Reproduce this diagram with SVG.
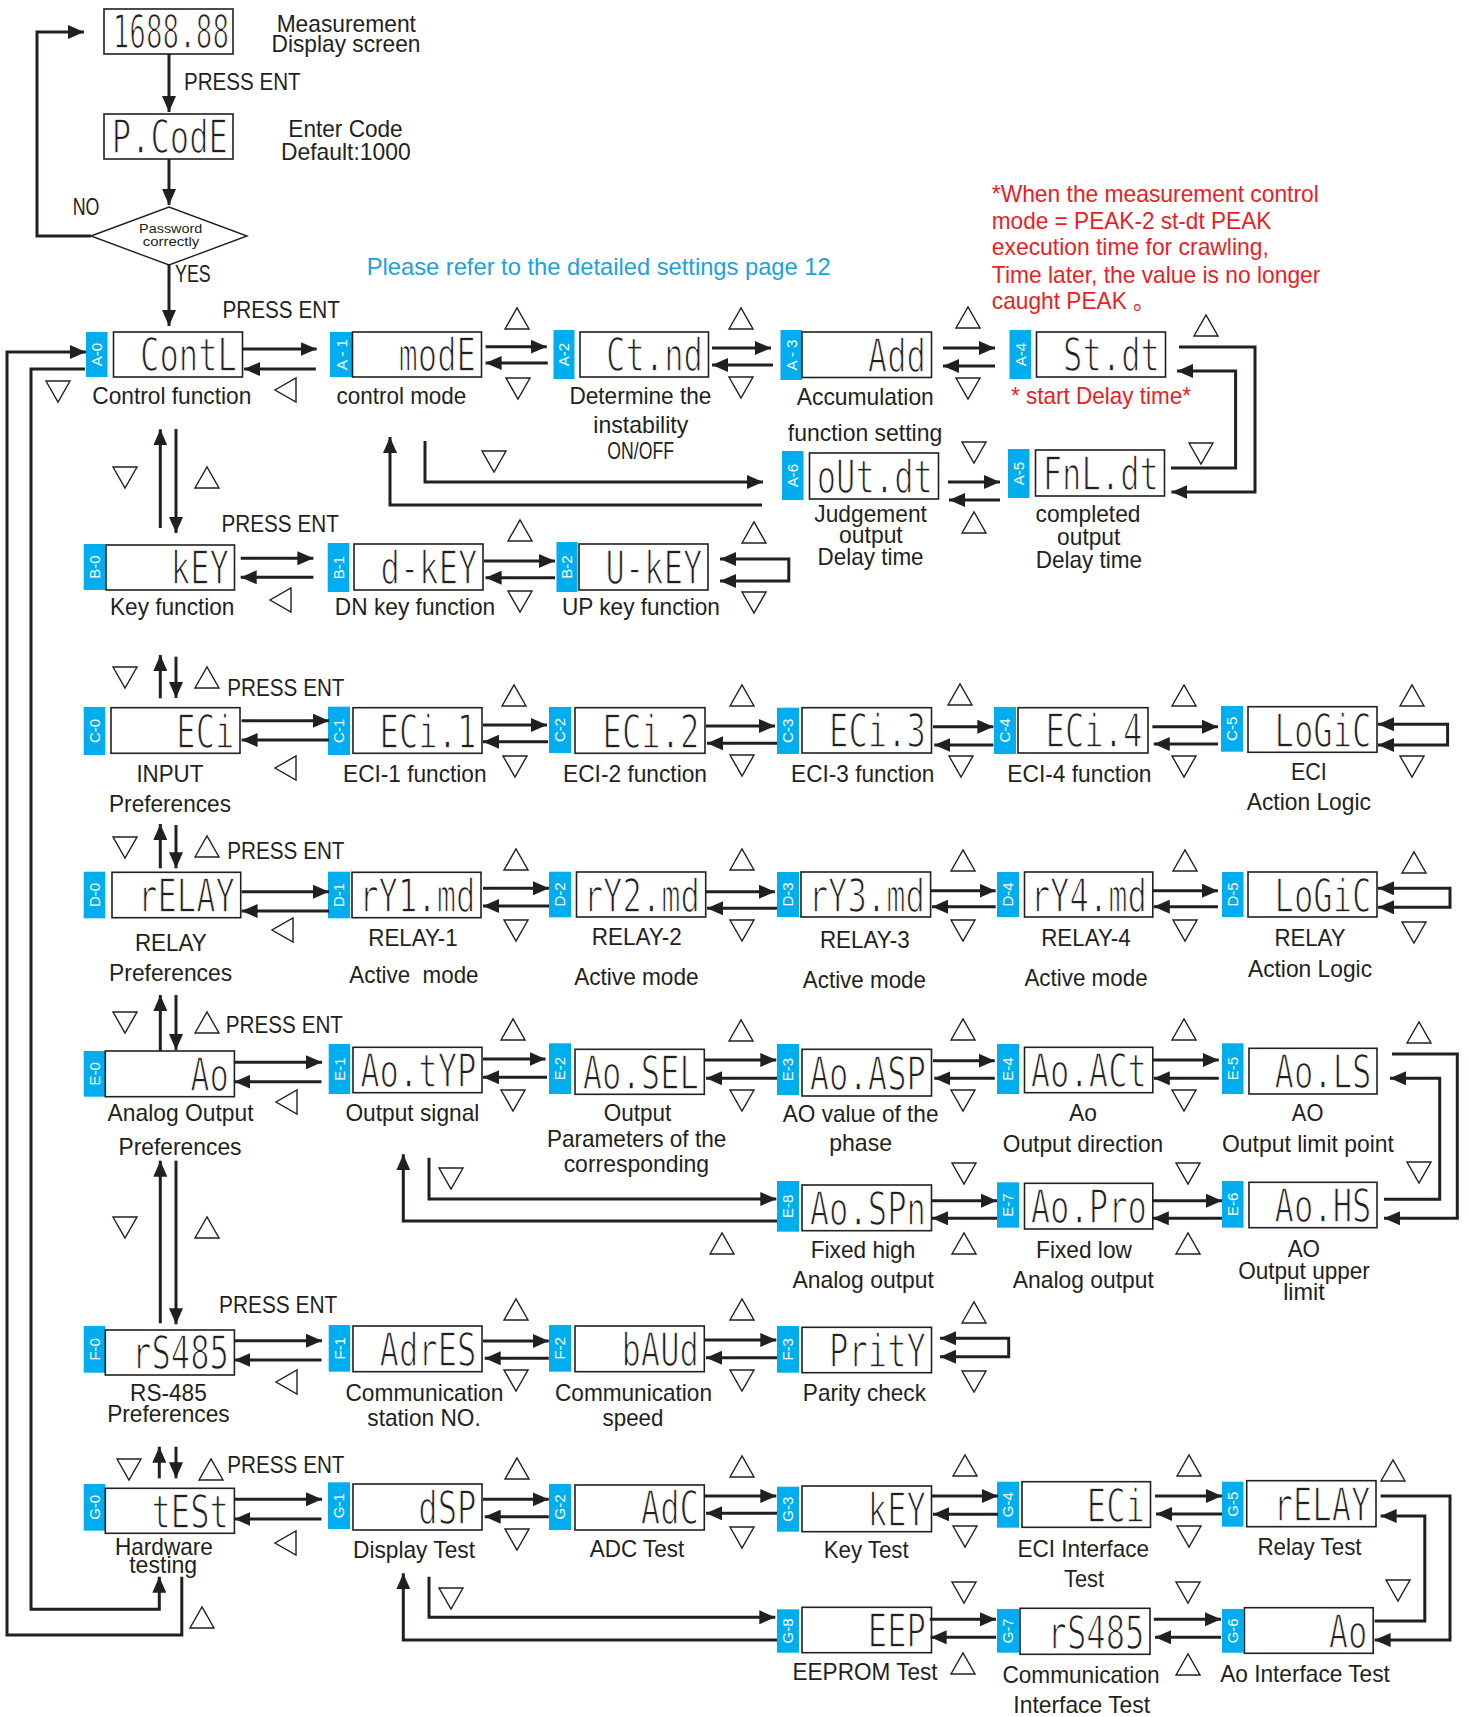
<svg xmlns="http://www.w3.org/2000/svg" xmlns:xlink="http://www.w3.org/1999/xlink" width="1469" height="1717" viewBox="0 0 1469 1717">
<style>
.box{fill:#fff;stroke:#231f20;stroke-width:1.6}
.tag{fill:#00aeef}
.tg{font-family:"Liberation Sans",Arial,sans-serif;font-size:15px;fill:#fff;text-anchor:middle}
.seg{font-family:"DejaVu Sans Mono",monospace;font-size:46px;fill:#231f20;stroke:#fff;stroke-width:1.4px;text-anchor:end}
.lb{font-family:"Liberation Sans",Arial,sans-serif;font-size:24px;fill:#231f20;text-anchor:middle}
.ls{font-family:"Liberation Sans",Arial,sans-serif;font-size:24px;fill:#231f20}
.red{fill:#ed1c24}
.cn{fill:none;stroke:#231f20;stroke-width:3}
.cnm{fill:none;stroke:#231f20;stroke-width:3;marker-end:url(#ah)}
.cnb{fill:none;stroke:#231f20;stroke-width:3;marker-start:url(#ah);marker-end:url(#ah)}
.tri{fill:#fff;stroke:#231f20;stroke-width:1.4}
</style>
<defs>
<marker id="ah" viewBox="0 0 16 14" markerWidth="16" markerHeight="14" refX="16" refY="7" orient="auto-start-reverse" markerUnits="userSpaceOnUse"><path d="M0,0 L16,7 L0,14 Z" fill="#231f20"/></marker>
<path id="tu" class="tri" d="M0,21 L12,0 L24,21 Z"/>
<path id="td" class="tri" d="M0,0 L24,0 L12,21 Z"/>
<path id="tl" class="tri" d="M21,0 L21,24 L0,12 Z"/>
</defs>
<rect width="1469" height="1717" fill="#fff"/>

<!-- top section -->
<g id="node-display">
<rect class="box" x="104" y="9" width="129" height="45"/>
<text class="seg" transform="translate(229,48) scale(0.6,1)">1688.88</text>
<text class="lb" x="346.3" y="32" textLength="139.3" lengthAdjust="spacingAndGlyphs">Measurement</text>
<text class="lb" x="346" y="52" textLength="149" lengthAdjust="spacingAndGlyphs">Display screen</text>
</g>
<g id="node-pcode">
<rect class="box" x="104" y="114" width="129" height="45"/>
<text class="seg" transform="translate(228,153) scale(0.7,1)">P.CodE</text>
<text class="lb" x="345.5" y="137" textLength="114.3" lengthAdjust="spacingAndGlyphs">Enter Code</text>
<text class="lb" x="345.8" y="160" textLength="129.7" lengthAdjust="spacingAndGlyphs">Default:1000</text>
</g>
<g id="node-password">
<polygon points="91,236 169,207 247,236 169,265" fill="#fff" stroke="#231f20" stroke-width="1.4"/>
<text x="170.7" y="233" text-anchor="middle" font-family="Liberation Sans,Arial,sans-serif" font-size="13" fill="#231f20" textLength="63.3" lengthAdjust="spacingAndGlyphs">Password</text>
<text x="171" y="245.5" text-anchor="middle" font-family="Liberation Sans,Arial,sans-serif" font-size="13" fill="#231f20" textLength="56.7" lengthAdjust="spacingAndGlyphs">correctly</text>
</g>
<g id="top-labels">
<text class="ls" x="184" y="90" textLength="116.7" lengthAdjust="spacingAndGlyphs">PRESS ENT</text>
<text class="ls" x="72.7" y="215" font-size="21" textLength="26.7" lengthAdjust="spacingAndGlyphs">NO</text>
<text class="ls" x="175" y="282" font-size="21" textLength="35.7" lengthAdjust="spacingAndGlyphs">YES</text>
<text class="ls" x="222.5" y="318.3" textLength="117.3" lengthAdjust="spacingAndGlyphs">PRESS ENT</text>
<text class="ls" x="221.5" y="531.7" textLength="117.3" lengthAdjust="spacingAndGlyphs">PRESS ENT</text>
<text class="ls" x="227.3" y="695.7" textLength="117.2" lengthAdjust="spacingAndGlyphs">PRESS ENT</text>
<text class="ls" x="227.3" y="859.3" textLength="117.2" lengthAdjust="spacingAndGlyphs">PRESS ENT</text>
<text class="ls" x="225.8" y="1033.3" textLength="117.2" lengthAdjust="spacingAndGlyphs">PRESS ENT</text>
<text class="ls" x="219" y="1313.3" textLength="118.3" lengthAdjust="spacingAndGlyphs">PRESS ENT</text>
<text class="ls" x="227.3" y="1472.7" textLength="117.2" lengthAdjust="spacingAndGlyphs">PRESS ENT</text>
<text class="ls" x="366.7" y="275" font-size="25" textLength="464" lengthAdjust="spacingAndGlyphs" style="fill:#1ba1e2">Please refer to the detailed settings page 12</text>
<text class="ls red" x="991.8" y="201.7" textLength="327" lengthAdjust="spacingAndGlyphs">*When the measurement control</text>
<text class="ls red" x="991.8" y="229.3" textLength="279.5" lengthAdjust="spacingAndGlyphs">mode = PEAK-2 st-dt PEAK</text>
<text class="ls red" x="991.8" y="255" textLength="277" lengthAdjust="spacingAndGlyphs">execution time for crawling,</text>
<text class="ls red" x="991.8" y="282.7" textLength="328.6" lengthAdjust="spacingAndGlyphs">Time later, the value is no longer</text>
<text class="ls red" x="991.8" y="309.3" textLength="135" lengthAdjust="spacingAndGlyphs">caught PEAK</text>
<text class="red" x="1133" y="309.3" font-size="22" font-family="Liberation Sans,Noto Sans CJK SC,sans-serif">。</text>
</g>

<!-- Row A -->
<g id="node-A0">
<rect class="tag" x="86" y="332" width="21.5" height="45"/><text class="tg" transform="rotate(-90 96.75 354.5)" x="96.75" y="359.8">A-0</text>
<rect class="box" x="113.5" y="332" width="129" height="45"/><text class="seg" transform="translate(237,371) scale(0.7,1)">ContL</text>
<text class="lb" x="171.8" y="404" textLength="159" lengthAdjust="spacingAndGlyphs">Control function</text>
</g>
<g id="node-A1">
<rect class="tag" x="330" y="332" width="22.5" height="45"/><text class="tg" transform="rotate(-90 341.25 354.5)" x="341.25" y="359.8">A - 1</text>
<rect class="box" x="352.5" y="332" width="129" height="45"/><text class="seg" transform="translate(476,371) scale(0.7,1)">modE</text>
<text class="lb" x="401.4" y="404" textLength="130" lengthAdjust="spacingAndGlyphs">control mode</text>
</g>
<g id="node-A2">
<rect class="tag" x="553.5" y="330" width="21" height="49"/><text class="tg" transform="rotate(-90 564 354.5)" x="564" y="359.8">A-2</text>
<rect class="box" x="580" y="332" width="128.5" height="45"/><text class="seg" transform="translate(703,371) scale(0.7,1)">Ct.nd</text>
<text class="lb" x="640.4" y="404" textLength="142" lengthAdjust="spacingAndGlyphs">Determine the</text>
<text class="lb" x="640.8" y="433" textLength="95" lengthAdjust="spacingAndGlyphs">instability</text>
<text class="lb" x="640.6" y="459.3" font-size="19" textLength="66.7" lengthAdjust="spacingAndGlyphs">ON/OFF</text>
</g>
<g id="node-A3">
<rect class="tag" x="780.5" y="330" width="21.5" height="50"/><text class="tg" transform="rotate(-90 791.25 355)" x="791.25" y="360.3">A - 3</text>
<rect class="box" x="802" y="332" width="129.5" height="45.5"/><text class="seg" transform="translate(926,371.5) scale(0.7,1)">Add</text>
<text class="lb" x="865.3" y="405" textLength="137" lengthAdjust="spacingAndGlyphs">Accumulation</text>
<text class="lb" x="865" y="441" textLength="154.3" lengthAdjust="spacingAndGlyphs">function setting</text>
</g>
<g id="node-A4">
<rect class="tag" x="1009.5" y="330" width="21.5" height="49"/><text class="tg" transform="rotate(-90 1020.25 354.5)" x="1020.25" y="359.8">A-4</text>
<rect class="box" x="1036.5" y="332" width="129" height="45"/><text class="seg" transform="translate(1160,371) scale(0.7,1)">St.dt</text>
<text class="lb red" x="1101" y="404" textLength="180" lengthAdjust="spacingAndGlyphs">* start Delay time*</text>
</g>
<g id="node-A6">
<rect class="tag" x="782" y="451" width="21.5" height="49"/><text class="tg" transform="rotate(-90 792.75 475.5)" x="792.75" y="480.8">A-6</text>
<rect class="box" x="809.5" y="453" width="129" height="46"/><text class="seg" transform="translate(933,493) scale(0.7,1)">oUt.dt</text>
<text class="lb" x="870.6" y="521.7" textLength="112.5" lengthAdjust="spacingAndGlyphs">Judgement</text>
<text class="lb" x="870.9" y="542.7" textLength="63.7" lengthAdjust="spacingAndGlyphs">output</text>
<text class="lb" x="870.6" y="565" textLength="106" lengthAdjust="spacingAndGlyphs">Delay time</text>
</g>
<g id="node-A5">
<rect class="tag" x="1008" y="449" width="21.5" height="49"/><text class="tg" transform="rotate(-90 1018.75 473.5)" x="1018.75" y="478.8">A-5</text>
<rect class="box" x="1035.5" y="450" width="129" height="46"/><text class="seg" transform="translate(1159,490) scale(0.7,1)">FnL.dt</text>
<text class="lb" x="1088" y="521.7" textLength="105" lengthAdjust="spacingAndGlyphs">completed</text>
<text class="lb" x="1088.7" y="545" textLength="63.2" lengthAdjust="spacingAndGlyphs">output</text>
<text class="lb" x="1088.9" y="568" textLength="106.5" lengthAdjust="spacingAndGlyphs">Delay time</text>
</g>

<!-- Row B -->
<g id="node-B0">
<rect class="tag" x="83.7" y="544" width="21.6" height="46"/><text class="tg" transform="rotate(-90 94.5 567)" x="94.5" y="572.3">B-0</text>
<rect class="box" x="106" y="545" width="128.5" height="45"/><text class="seg" transform="translate(229,584) scale(0.7,1)">kEY</text>
<text class="lb" x="172.2" y="615" textLength="124.4" lengthAdjust="spacingAndGlyphs">Key function</text>
</g>
<g id="node-B1">
<rect class="tag" x="327.7" y="543" width="21.6" height="49"/><text class="tg" transform="rotate(-90 338.5 567.5)" x="338.5" y="572.8">B-1</text>
<rect class="box" x="354" y="544" width="129" height="46"/><text class="seg" transform="translate(477.5,584) scale(0.7,1)">d-kEY</text>
<text class="lb" x="415" y="615" textLength="160.3" lengthAdjust="spacingAndGlyphs">DN key function</text>
</g>
<g id="node-B2">
<rect class="tag" x="556.5" y="542" width="21" height="50"/><text class="tg" transform="rotate(-90 567 567)" x="567" y="572.3">B-2</text>
<rect class="box" x="579" y="544" width="129" height="46"/><text class="seg" transform="translate(702.5,584) scale(0.7,1)">U-kEY</text>
<text class="lb" x="641" y="615" textLength="157.9" lengthAdjust="spacingAndGlyphs">UP key function</text>
</g>

<!-- Row C -->
<g id="node-C0">
<rect class="tag" x="83.7" y="707" width="21.6" height="48"/><text class="tg" transform="rotate(-90 94.5 731)" x="94.5" y="736.3">C-0</text>
<rect class="box" x="111" y="707.7" width="129" height="45.6"/><text class="seg" transform="translate(234.5,747.5) scale(0.7,1)">ECi</text>
<text class="lb" x="169.9" y="781.7" textLength="67" lengthAdjust="spacingAndGlyphs">INPUT</text>
<text class="lb" x="170" y="811.7" textLength="122" lengthAdjust="spacingAndGlyphs">Preferences</text>
</g>
<g id="node-C1">
<rect class="tag" x="328" y="706.7" width="22" height="48.3"/><text class="tg" transform="rotate(-90 339 730.8)" x="339" y="736.1">C-1</text>
<rect class="box" x="353" y="707.7" width="129" height="45.6"/><text class="seg" transform="translate(476.5,747.5) scale(0.7,1)">ECi.1</text>
<text class="lb" x="414.8" y="781.7" textLength="143.5" lengthAdjust="spacingAndGlyphs">ECI-1 function</text>
</g>
<g id="node-C2">
<rect class="tag" x="549" y="707" width="22" height="46"/><text class="tg" transform="rotate(-90 560 730)" x="560" y="735.3">C-2</text>
<rect class="box" x="575" y="707.7" width="130" height="45.6"/><text class="seg" transform="translate(699.5,747.5) scale(0.7,1)">ECi.2</text>
<text class="lb" x="635" y="781.7" textLength="144" lengthAdjust="spacingAndGlyphs">ECI-2 function</text>
</g>
<g id="node-C3">
<rect class="tag" x="777" y="707.7" width="22" height="46.3"/><text class="tg" transform="rotate(-90 788 730.8)" x="788" y="736.1">C-3</text>
<rect class="box" x="802" y="707.7" width="129.5" height="45.3"/><text class="seg" transform="translate(926,747) scale(0.7,1)">ECi.3</text>
<text class="lb" x="862.7" y="781.7" textLength="143.2" lengthAdjust="spacingAndGlyphs">ECI-3 function</text>
</g>
<g id="node-C4">
<rect class="tag" x="994" y="707" width="22" height="47"/><text class="tg" transform="rotate(-90 1005 730.5)" x="1005" y="735.8">C-4</text>
<rect class="box" x="1018" y="707.7" width="130" height="45.3"/><text class="seg" transform="translate(1142.5,747) scale(0.7,1)">ECi.4</text>
<text class="lb" x="1079.4" y="781.7" textLength="144.1" lengthAdjust="spacingAndGlyphs">ECI-4 function</text>
</g>
<g id="node-C5">
<rect class="tag" x="1221" y="706" width="22" height="45.7"/><text class="tg" transform="rotate(-90 1232 728.8)" x="1232" y="734.1">C-5</text>
<rect class="box" x="1248" y="706.7" width="129" height="45.6"/><text class="seg" transform="translate(1371.5,746.5) scale(0.7,1)">LoGiC</text>
<text class="lb" x="1308.8" y="780" textLength="35.8" lengthAdjust="spacingAndGlyphs">ECI</text>
<text class="lb" x="1308.8" y="810" textLength="124.1" lengthAdjust="spacingAndGlyphs">Action Logic</text>
</g>

<!-- Row D -->
<g id="node-D0">
<rect class="tag" x="83.7" y="871.7" width="21.6" height="46.6"/><text class="tg" transform="rotate(-90 94.5 895)" x="94.5" y="900.3">D-0</text>
<rect class="box" x="112" y="872.3" width="128.7" height="45.4"/><text class="seg" transform="translate(235,912) scale(0.7,1)">rELAY</text>
<text class="lb" x="170.8" y="950.7" textLength="71.8" lengthAdjust="spacingAndGlyphs">RELAY</text>
<text class="lb" x="170.6" y="980.7" textLength="123" lengthAdjust="spacingAndGlyphs">Preferences</text>
</g>
<g id="node-D1">
<rect class="tag" x="328" y="871.7" width="22" height="46.6"/><text class="tg" transform="rotate(-90 339 895)" x="339" y="900.3">D-1</text>
<rect class="box" x="352" y="872.3" width="129" height="45.4"/><text class="seg" transform="translate(475.5,912) scale(0.7,1)">rY1.md</text>
<text class="lb" x="413" y="946" textLength="89.5" lengthAdjust="spacingAndGlyphs">RELAY-1</text>
<text class="lb" x="413.9" y="983.3" textLength="129.2" lengthAdjust="spacingAndGlyphs" xml:space="preserve">Active  mode</text>
</g>
<g id="node-D2">
<rect class="tag" x="549" y="871.7" width="22" height="45.6"/><text class="tg" transform="rotate(-90 560 894.5)" x="560" y="899.8">D-2</text>
<rect class="box" x="576.5" y="872" width="129.2" height="45"/><text class="seg" transform="translate(700,911.5) scale(0.7,1)">rY2.md</text>
<text class="lb" x="636.8" y="945" textLength="90" lengthAdjust="spacingAndGlyphs">RELAY-2</text>
<text class="lb" x="636.4" y="985" textLength="124.4" lengthAdjust="spacingAndGlyphs">Active mode</text>
</g>
<g id="node-D3">
<rect class="tag" x="777" y="872" width="22" height="45"/><text class="tg" transform="rotate(-90 788 894.5)" x="788" y="899.8">D-3</text>
<rect class="box" x="801" y="872" width="129.6" height="45"/><text class="seg" transform="translate(925,911.5) scale(0.7,1)">rY3.md</text>
<text class="lb" x="864.8" y="948.3" textLength="89.7" lengthAdjust="spacingAndGlyphs">RELAY-3</text>
<text class="lb" x="864.4" y="988.3" textLength="123.2" lengthAdjust="spacingAndGlyphs">Active mode</text>
</g>
<g id="node-D4">
<rect class="tag" x="997" y="872" width="22" height="45"/><text class="tg" transform="rotate(-90 1008 894.5)" x="1008" y="899.8">D-4</text>
<rect class="box" x="1024.5" y="872" width="128.3" height="45"/><text class="seg" transform="translate(1147,911.5) scale(0.7,1)">rY4.md</text>
<text class="lb" x="1085.9" y="946" textLength="89.3" lengthAdjust="spacingAndGlyphs">RELAY-4</text>
<text class="lb" x="1086" y="986" textLength="123.2" lengthAdjust="spacingAndGlyphs">Active mode</text>
</g>
<g id="node-D5">
<rect class="tag" x="1222" y="872" width="21.5" height="45"/><text class="tg" transform="rotate(-90 1232.75 894.5)" x="1232.75" y="899.8">D-5</text>
<rect class="box" x="1248" y="872" width="129" height="45"/><text class="seg" transform="translate(1371.5,911.5) scale(0.7,1)">LoGiC</text>
<text class="lb" x="1310" y="946" textLength="71.1" lengthAdjust="spacingAndGlyphs">RELAY</text>
<text class="lb" x="1310" y="976.7" textLength="124.1" lengthAdjust="spacingAndGlyphs">Action Logic</text>
</g>

<!-- Row E -->
<g id="node-E0">
<rect class="tag" x="83.7" y="1051" width="21.6" height="45.7"/><text class="tg" transform="rotate(-90 94.5 1073.8)" x="94.5" y="1079.1">E-0</text>
<rect class="box" x="105.3" y="1051" width="129.1" height="45.7"/><text class="seg" transform="translate(229,1090.5) scale(0.7,1)">Ao</text>
<text class="lb" x="180.6" y="1120.7" textLength="146" lengthAdjust="spacingAndGlyphs">Analog Output</text>
<text class="lb" x="180" y="1155" textLength="123" lengthAdjust="spacingAndGlyphs">Preferences</text>
</g>
<g id="node-E1">
<rect class="tag" x="328.7" y="1044" width="21.5" height="50"/><text class="tg" transform="rotate(-90 339.45 1069)" x="339.45" y="1074.3">E-1</text>
<rect class="box" x="353" y="1047.3" width="129" height="45.4"/><text class="seg" transform="translate(476.5,1087) scale(0.7,1)">Ao.tYP</text>
<text class="lb" x="412.4" y="1120.7" textLength="134" lengthAdjust="spacingAndGlyphs">Output signal</text>
</g>
<g id="node-E2">
<rect class="tag" x="549" y="1043.3" width="22" height="50.7"/><text class="tg" transform="rotate(-90 560 1068.7)" x="560" y="1074">E-2</text>
<rect class="box" x="575" y="1049.3" width="129.3" height="45"/><text class="seg" transform="translate(699,1088.5) scale(0.7,1)">Ao.SEL</text>
<text class="lb" x="637.6" y="1120.7" textLength="67.5" lengthAdjust="spacingAndGlyphs">Output</text>
<text class="lb" x="636.6" y="1146.7" textLength="179.4" lengthAdjust="spacingAndGlyphs">Parameters of the</text>
<text class="lb" x="636.4" y="1171.7" textLength="145.5" lengthAdjust="spacingAndGlyphs">corresponding</text>
</g>
<g id="node-E3">
<rect class="tag" x="777" y="1044" width="22" height="51"/><text class="tg" transform="rotate(-90 788 1069.5)" x="788" y="1074.8">E-3</text>
<rect class="box" x="802" y="1049.3" width="129.5" height="46.7"/><text class="seg" transform="translate(926,1090) scale(0.7,1)">Ao.ASP</text>
<text class="lb" x="860.6" y="1121.7" textLength="155.7" lengthAdjust="spacingAndGlyphs">AO value of the</text>
<text class="lb" x="860.6" y="1150.7" textLength="62.8" lengthAdjust="spacingAndGlyphs">phase</text>
</g>
<g id="node-E4">
<rect class="tag" x="997" y="1044" width="22" height="50"/><text class="tg" transform="rotate(-90 1008 1069)" x="1008" y="1074.3">E-4</text>
<rect class="box" x="1024.5" y="1047.3" width="128.3" height="45.4"/><text class="seg" transform="translate(1147,1087) scale(0.7,1)">Ao.ACt</text>
<text class="lb" x="1083" y="1121" textLength="27.9" lengthAdjust="spacingAndGlyphs">Ao</text>
<text class="lb" x="1083" y="1151.7" textLength="160.4" lengthAdjust="spacingAndGlyphs">Output direction</text>
</g>
<g id="node-E5">
<rect class="tag" x="1222" y="1043.3" width="21.5" height="50.7"/><text class="tg" transform="rotate(-90 1232.75 1068.7)" x="1232.75" y="1074">E-5</text>
<rect class="box" x="1249" y="1048.3" width="128" height="45.7"/><text class="seg" transform="translate(1371.5,1088) scale(0.7,1)">Ao.LS</text>
<text class="lb" x="1307.6" y="1121" textLength="31.6" lengthAdjust="spacingAndGlyphs">AO</text>
<text class="lb" x="1308" y="1151.7" textLength="172" lengthAdjust="spacingAndGlyphs">Output limit point</text>
</g>
<g id="node-E8">
<rect class="tag" x="777" y="1181" width="22" height="50.7"/><text class="tg" transform="rotate(-90 788 1206.3)" x="788" y="1211.6">E-8</text>
<rect class="box" x="802" y="1185" width="129.5" height="45.7"/><text class="seg" transform="translate(926,1224.7) scale(0.7,1)">Ao.SPn</text>
<text class="lb" x="863" y="1257.7" textLength="104.6" lengthAdjust="spacingAndGlyphs">Fixed high</text>
<text class="lb" x="863.2" y="1287.7" textLength="141.3" lengthAdjust="spacingAndGlyphs">Analog output</text>
</g>
<g id="node-E7">
<rect class="tag" x="997" y="1182.3" width="22" height="45.4"/><text class="tg" transform="rotate(-90 1008 1205)" x="1008" y="1210.3">E-7</text>
<rect class="box" x="1024.5" y="1183.3" width="128.3" height="45.7"/><text class="seg" transform="translate(1147,1223) scale(0.7,1)">Ao.Pro</text>
<text class="lb" x="1084" y="1257.7" textLength="95.8" lengthAdjust="spacingAndGlyphs">Fixed low</text>
<text class="lb" x="1083.3" y="1287.7" textLength="140.9" lengthAdjust="spacingAndGlyphs">Analog output</text>
</g>
<g id="node-E6">
<rect class="tag" x="1222" y="1181" width="21.5" height="46.7"/><text class="tg" transform="rotate(-90 1232.75 1204.3)" x="1232.75" y="1209.6">E-6</text>
<rect class="box" x="1249" y="1182.3" width="128" height="45.4"/><text class="seg" transform="translate(1371.5,1222) scale(0.7,1)">Ao.HS</text>
<text class="lb" x="1303.8" y="1257.3" textLength="32.3" lengthAdjust="spacingAndGlyphs">AO</text>
<text class="lb" x="1304" y="1279.3" textLength="131.7" lengthAdjust="spacingAndGlyphs">Output upper</text>
<text class="lb" x="1304" y="1300" textLength="41.7" lengthAdjust="spacingAndGlyphs">limit</text>
</g>

<!-- Row F -->
<g id="node-F0">
<rect class="tag" x="83.7" y="1326" width="21.6" height="46.7"/><text class="tg" transform="rotate(-90 94.5 1349.3)" x="94.5" y="1354.6">F-0</text>
<rect class="box" x="105.3" y="1330" width="129.1" height="45"/><text class="seg" transform="translate(229,1369) scale(0.7,1)">rS485</text>
<text class="lb" x="168.4" y="1400.7" textLength="76.6" lengthAdjust="spacingAndGlyphs">RS-485</text>
<text class="lb" x="168.4" y="1421.7" textLength="122.5" lengthAdjust="spacingAndGlyphs">Preferences</text>
</g>
<g id="node-F1">
<rect class="tag" x="328.7" y="1325" width="21.5" height="46.7"/><text class="tg" transform="rotate(-90 339.45 1348.3)" x="339.45" y="1353.6">F-1</text>
<rect class="box" x="353" y="1326" width="129" height="45.7"/><text class="seg" transform="translate(476.5,1366) scale(0.7,1)">AdrES</text>
<text class="lb" x="424.4" y="1400.7" textLength="157.9" lengthAdjust="spacingAndGlyphs">Communication</text>
<text class="lb" x="424" y="1425.7" textLength="113.4" lengthAdjust="spacingAndGlyphs">station NO.</text>
</g>
<g id="node-F2">
<rect class="tag" x="549" y="1325" width="22" height="46.7"/><text class="tg" transform="rotate(-90 560 1348.3)" x="560" y="1353.6">F-2</text>
<rect class="box" x="575" y="1326" width="129.3" height="45.7"/><text class="seg" transform="translate(699,1366) scale(0.7,1)">bAUd</text>
<text class="lb" x="633.5" y="1400.7" textLength="157" lengthAdjust="spacingAndGlyphs">Communication</text>
<text class="lb" x="633" y="1426" textLength="60.8" lengthAdjust="spacingAndGlyphs">speed</text>
</g>
<g id="node-F3">
<rect class="tag" x="777" y="1326" width="22" height="46.7"/><text class="tg" transform="rotate(-90 788 1349.3)" x="788" y="1354.6">F-3</text>
<rect class="box" x="802" y="1327.3" width="129.5" height="45.4"/><text class="seg" transform="translate(926,1367) scale(0.7,1)">PritY</text>
<text class="lb" x="864.4" y="1400.7" textLength="123.2" lengthAdjust="spacingAndGlyphs">Parity check</text>
</g>

<!-- Row G -->
<g id="node-G0">
<rect class="tag" x="83.7" y="1484" width="21.6" height="46.7"/><text class="tg" transform="rotate(-90 94.5 1507.3)" x="94.5" y="1512.6">G-0</text>
<rect class="box" x="105.3" y="1488.3" width="129.1" height="45"/><text class="seg" transform="translate(229,1527.5) scale(0.7,1)">tESt</text>
<text class="lb" x="163.9" y="1555" textLength="98" lengthAdjust="spacingAndGlyphs">Hardware</text>
<text class="lb" x="163.2" y="1572.7" textLength="68" lengthAdjust="spacingAndGlyphs">testing</text>
</g>
<g id="node-G1">
<rect class="tag" x="328" y="1482.3" width="22" height="46.7"/><text class="tg" transform="rotate(-90 339 1505.7)" x="339" y="1511">G-1</text>
<rect class="box" x="353" y="1484" width="129" height="46"/><text class="seg" transform="translate(476.5,1524) scale(0.7,1)">dSP</text>
<text class="lb" x="414" y="1558.3" textLength="122" lengthAdjust="spacingAndGlyphs">Display Test</text>
</g>
<g id="node-G2">
<rect class="tag" x="549" y="1484" width="22" height="46"/><text class="tg" transform="rotate(-90 560 1507)" x="560" y="1512.3">G-2</text>
<rect class="box" x="575" y="1485" width="129.3" height="45"/><text class="seg" transform="translate(699,1524) scale(0.7,1)">AdC</text>
<text class="lb" x="637" y="1557.3" textLength="94.3" lengthAdjust="spacingAndGlyphs">ADC Test</text>
</g>
<g id="node-G3">
<rect class="tag" x="777" y="1486.7" width="22" height="45"/><text class="tg" transform="rotate(-90 788 1509.2)" x="788" y="1514.5">G-3</text>
<rect class="box" x="802" y="1486" width="129.5" height="45.7"/><text class="seg" transform="translate(926,1526) scale(0.7,1)">kEY</text>
<text class="lb" x="866.2" y="1558.3" textLength="85" lengthAdjust="spacingAndGlyphs">Key Test</text>
</g>
<g id="node-G4">
<rect class="tag" x="997" y="1481.7" width="22" height="46"/><text class="tg" transform="rotate(-90 1008 1504.7)" x="1008" y="1510">G-4</text>
<rect class="box" x="1022" y="1481.7" width="128.5" height="45.6"/><text class="seg" transform="translate(1145,1521.5) scale(0.7,1)">ECi</text>
<text class="lb" x="1083.3" y="1556.7" textLength="131.6" lengthAdjust="spacingAndGlyphs">ECI Interface</text>
<text class="lb" x="1084" y="1586.7" textLength="40" lengthAdjust="spacingAndGlyphs">Test</text>
</g>
<g id="node-G5">
<rect class="tag" x="1222" y="1481.7" width="21.5" height="45"/><text class="tg" transform="rotate(-90 1232.75 1504.2)" x="1232.75" y="1509.5">G-5</text>
<rect class="box" x="1246.7" y="1480.7" width="129.3" height="46"/><text class="seg" transform="translate(1370.5,1521) scale(0.7,1)">rELAY</text>
<text class="lb" x="1309.5" y="1555" textLength="104.1" lengthAdjust="spacingAndGlyphs">Relay Test</text>
</g>
<g id="node-G8">
<rect class="tag" x="777" y="1609.3" width="22" height="43.4"/><text class="tg" transform="rotate(-90 788 1631)" x="788" y="1636.3">G-8</text>
<rect class="box" x="802" y="1607.3" width="129.5" height="45.4"/><text class="seg" transform="translate(926,1647) scale(0.7,1)">EEP</text>
<text class="lb" x="865" y="1680" textLength="145" lengthAdjust="spacingAndGlyphs">EEPROM Test</text>
</g>
<g id="node-G7">
<rect class="tag" x="997" y="1609" width="22" height="43.7"/><text class="tg" transform="rotate(-90 1008 1630.8)" x="1008" y="1636.1">G-7</text>
<rect class="box" x="1020" y="1608.3" width="130" height="46"/><text class="seg" transform="translate(1144.5,1648.5) scale(0.7,1)">rS485</text>
<text class="lb" x="1081" y="1683.3" textLength="157.1" lengthAdjust="spacingAndGlyphs">Communication</text>
<text class="lb" x="1081.7" y="1712.7" textLength="136.7" lengthAdjust="spacingAndGlyphs">Interface Test</text>
</g>
<g id="node-G6">
<rect class="tag" x="1222" y="1609" width="21.5" height="43.7"/><text class="tg" transform="rotate(-90 1232.75 1630.8)" x="1232.75" y="1636.1">G-6</text>
<rect class="box" x="1244.4" y="1607.7" width="128.8" height="45.6"/><text class="seg" transform="translate(1367.5,1647.5) scale(0.7,1)">Ao</text>
<text class="lb" x="1305" y="1681.7" textLength="169.7" lengthAdjust="spacingAndGlyphs">Ao Interface Test</text>
</g>

<!-- connectors -->
<g id="connectors">
<path class="cnm" d="M169,54 V112"/>
<path class="cnm" d="M169,159 V205"/>
<path class="cnm" d="M91,236 H37 V32 H84"/>
<path class="cnm" d="M169,265 V326"/>
<path class="cnm" d="M242.5,349 H316.7"/>
<path class="cnm" d="M315.8,369 H244"/>
<path class="cnm" d="M485.6,346.7 H546.8"/>
<path class="cnm" d="M547.8,363 H485.6"/>
<path class="cnm" d="M712,348 H771"/>
<path class="cnm" d="M773,365 H712"/>
<path class="cnm" d="M943,348 H995"/>
<path class="cnm" d="M995,366 H943"/>
<path class="cnm" d="M1179,347 H1255 V492 H1171.4"/>
<path class="cnm" d="M1171,468 H1235.6 V371 H1177"/>
<path class="cnm" d="M948,482 H1000"/>
<path class="cnm" d="M1000,500 H949"/>
<path class="cnm" d="M425,441 V482 H763"/>
<path class="cnm" d="M762,505 H390 V437"/>
<path class="cnm" d="M160.3,528 V429.3"/>
<path class="cnm" d="M176,429 V533"/>
<path class="cnm" d="M160.3,698.3 V655"/>
<path class="cnm" d="M176,656.7 V698"/>
<path class="cnm" d="M160.3,868.3 V824"/>
<path class="cnm" d="M176,825 V868.3"/>
<path class="cnm" d="M160.3,1051 V995"/>
<path class="cnm" d="M176,995 V1050"/>
<path class="cnm" d="M160.3,1323.3 V1160.7"/>
<path class="cnm" d="M176,1160.7 V1324.3"/>
<path class="cnm" d="M159.3,1478.3 V1446.7"/>
<path class="cnm" d="M176,1446.7 V1478.3"/>
<path class="cnm" d="M240.7,558.3 H313.4"/>
<path class="cnm" d="M313.4,577.3 H240.7"/>
<path class="cnm" d="M484,561 H555"/>
<path class="cnm" d="M555,577.7 H485.6"/>
<path class="cnb" d="M720,559 H788.8 V581 H720"/>
<path class="cnm" d="M241.6,720.7 H329"/>
<path class="cnm" d="M329,740 H241.6"/>
<path class="cnm" d="M483,725 H547"/>
<path class="cnm" d="M548,741.7 H483"/>
<path class="cnm" d="M706,726 H775"/>
<path class="cnm" d="M777,743.3 H707"/>
<path class="cnm" d="M933,726.7 H993.4"/>
<path class="cnm" d="M993.4,745 H934.3"/>
<path class="cnm" d="M1152.4,726.7 H1218"/>
<path class="cnm" d="M1218,744 H1153.8"/>
<path class="cnb" d="M1378,724.3 H1447.6 V745 H1378"/>
<path class="cnm" d="M241.6,891.7 H329"/>
<path class="cnm" d="M329,911 H241.6"/>
<path class="cnm" d="M483,888.3 H549"/>
<path class="cnm" d="M549,906 H483"/>
<path class="cnm" d="M706,891.7 H775"/>
<path class="cnm" d="M777,908.3 H707"/>
<path class="cnm" d="M930.6,890.7 H995.7"/>
<path class="cnm" d="M995.7,906.7 H932"/>
<path class="cnm" d="M1152.8,890.7 H1218"/>
<path class="cnm" d="M1218,906.7 H1153.8"/>
<path class="cnb" d="M1378,888.3 H1450 V907.3 H1378"/>
<path class="cnm" d="M234.4,1062.3 H322"/>
<path class="cnm" d="M321.5,1081.7 H234.4"/>
<path class="cnm" d="M483,1059 H545.5"/>
<path class="cnm" d="M547,1077.3 H483"/>
<path class="cnm" d="M705,1060 H776.3"/>
<path class="cnm" d="M777,1078.3 H706"/>
<path class="cnm" d="M933,1060.7 H994.8"/>
<path class="cnm" d="M994.8,1078.3 H934.3"/>
<path class="cnm" d="M1152.8,1060 H1218.8"/>
<path class="cnm" d="M1218.8,1078.3 H1153.8"/>
<path class="cnm" d="M1392,1054 H1457.3 V1218.3 H1384"/>
<path class="cnm" d="M1384,1199.3 H1439.7 V1078.3 H1390"/>
<path class="cnm" d="M932,1200.7 H997"/>
<path class="cnm" d="M997,1218.3 H932"/>
<path class="cnm" d="M1152.8,1200.7 H1222"/>
<path class="cnm" d="M1222,1218.3 H1152.8"/>
<path class="cnm" d="M429,1157.7 V1199 H776.3"/>
<path class="cnm" d="M777,1221 H403.3 V1154.3"/>
<path class="cnm" d="M234.4,1340.7 H322"/>
<path class="cnm" d="M321.5,1360 H234.4"/>
<path class="cnm" d="M483,1341 H548.8"/>
<path class="cnm" d="M548.8,1358.3 H484.7"/>
<path class="cnm" d="M705,1340 H776.3"/>
<path class="cnm" d="M777,1357.7 H706"/>
<path class="cnb" d="M940,1338.3 H1008.7 V1356.7 H940"/>
<path class="cnm" d="M234.4,1499.3 H322"/>
<path class="cnm" d="M321.5,1519 H234.4"/>
<path class="cnm" d="M483,1499.3 H548.8"/>
<path class="cnm" d="M548.8,1516.7 H484.7"/>
<path class="cnm" d="M705,1496 H776.3"/>
<path class="cnm" d="M777,1513.3 H706"/>
<path class="cnm" d="M932,1496 H998"/>
<path class="cnm" d="M998,1514.3 H933"/>
<path class="cnm" d="M1155,1496 H1222"/>
<path class="cnm" d="M1222,1514 H1156"/>
<path class="cnm" d="M1380.6,1496 H1450 V1640 H1374.6"/>
<path class="cnm" d="M1374.6,1621 H1424.8 V1516 H1380.6"/>
<path class="cnm" d="M929.7,1619.3 H996"/>
<path class="cnm" d="M996,1637.3 H930.6"/>
<path class="cnm" d="M1153.8,1619.3 H1221"/>
<path class="cnm" d="M1221,1637.3 H1155"/>
<path class="cnm" d="M429,1576.7 V1617.3 H775.3"/>
<path class="cnm" d="M777,1640 H403.3 V1573.3"/>
<path class="cnm" d="M181.8,1576.7 V1635 H7 V352 H86"/>
<path class="cnm" d="M85,369 H31 V1609.3 H159.3 V1576.7"/>
</g>

<!-- key triangles -->
<g id="keys">
<use href="#tu" x="505" y="308"/><use href="#tu" x="729" y="308"/><use href="#tu" x="956" y="307"/><use href="#tu" x="1194" y="315"/>
<use href="#tu" x="962" y="512"/><use href="#tu" x="195" y="467"/><use href="#tu" x="508" y="520"/><use href="#tu" x="742" y="522"/>
<use href="#tu" x="195" y="667"/><use href="#tu" x="502" y="685"/><use href="#tu" x="730" y="685"/><use href="#tu" x="948" y="684"/>
<use href="#tu" x="1172" y="685"/><use href="#tu" x="1400" y="685"/>
<use href="#tu" x="195" y="836"/><use href="#tu" x="504" y="849"/><use href="#tu" x="730" y="849"/><use href="#tu" x="951" y="850"/>
<use href="#tu" x="1173" y="850"/><use href="#tu" x="1402" y="852"/>
<use href="#tu" x="195" y="1012"/><use href="#tu" x="501" y="1019"/><use href="#tu" x="729" y="1020"/><use href="#tu" x="951" y="1019"/>
<use href="#tu" x="1172" y="1019"/><use href="#tu" x="1407" y="1022"/><use href="#tu" x="952" y="1233"/><use href="#tu" x="1176" y="1233"/>
<use href="#tu" x="710" y="1233"/><use href="#tu" x="195" y="1217"/>
<use href="#tu" x="504" y="1299"/><use href="#tu" x="730" y="1299"/><use href="#tu" x="962" y="1302"/>
<use href="#tu" x="199" y="1459"/><use href="#tu" x="505" y="1458"/><use href="#tu" x="730" y="1456"/><use href="#tu" x="953" y="1455"/>
<use href="#tu" x="1177" y="1455"/><use href="#tu" x="1381" y="1460"/><use href="#tu" x="951" y="1653"/><use href="#tu" x="1176" y="1654"/>
<use href="#tu" x="190" y="1607"/>

<use href="#td" x="46" y="381"/><use href="#td" x="506" y="378"/><use href="#td" x="729" y="377"/><use href="#td" x="956" y="378"/>
<use href="#td" x="1189" y="443"/><use href="#td" x="962" y="442"/><use href="#td" x="482" y="451"/><use href="#td" x="113" y="467"/>
<use href="#td" x="508" y="591"/><use href="#td" x="742" y="592"/>
<use href="#td" x="113" y="667"/><use href="#td" x="503" y="756"/><use href="#td" x="730" y="755"/><use href="#td" x="949" y="756"/>
<use href="#td" x="1172" y="756"/><use href="#td" x="1400" y="756"/>
<use href="#td" x="113" y="837"/><use href="#td" x="504" y="920"/><use href="#td" x="730" y="920"/><use href="#td" x="951" y="920"/>
<use href="#td" x="1173" y="920"/><use href="#td" x="1402" y="922"/>
<use href="#td" x="113" y="1012"/><use href="#td" x="501" y="1090"/><use href="#td" x="730" y="1090"/><use href="#td" x="951" y="1090"/>
<use href="#td" x="1172" y="1090"/><use href="#td" x="1407" y="1162"/><use href="#td" x="952" y="1163"/><use href="#td" x="1176" y="1163"/>
<use href="#td" x="439" y="1168"/><use href="#td" x="113" y="1217"/>
<use href="#td" x="504" y="1370"/><use href="#td" x="730" y="1370"/><use href="#td" x="962" y="1371"/>
<use href="#td" x="117" y="1459"/><use href="#td" x="505" y="1529"/><use href="#td" x="730" y="1527"/><use href="#td" x="953" y="1526"/>
<use href="#td" x="1177" y="1526"/><use href="#td" x="1386" y="1580"/><use href="#td" x="952" y="1582"/><use href="#td" x="1176" y="1582"/>
<use href="#td" x="439" y="1588"/>

<use href="#tl" x="275" y="378"/><use href="#tl" x="270" y="588"/><use href="#tl" x="275" y="756"/><use href="#tl" x="272" y="918"/>
<use href="#tl" x="276" y="1090"/><use href="#tl" x="276" y="1370"/><use href="#tl" x="275" y="1531"/>
</g>
</svg>
